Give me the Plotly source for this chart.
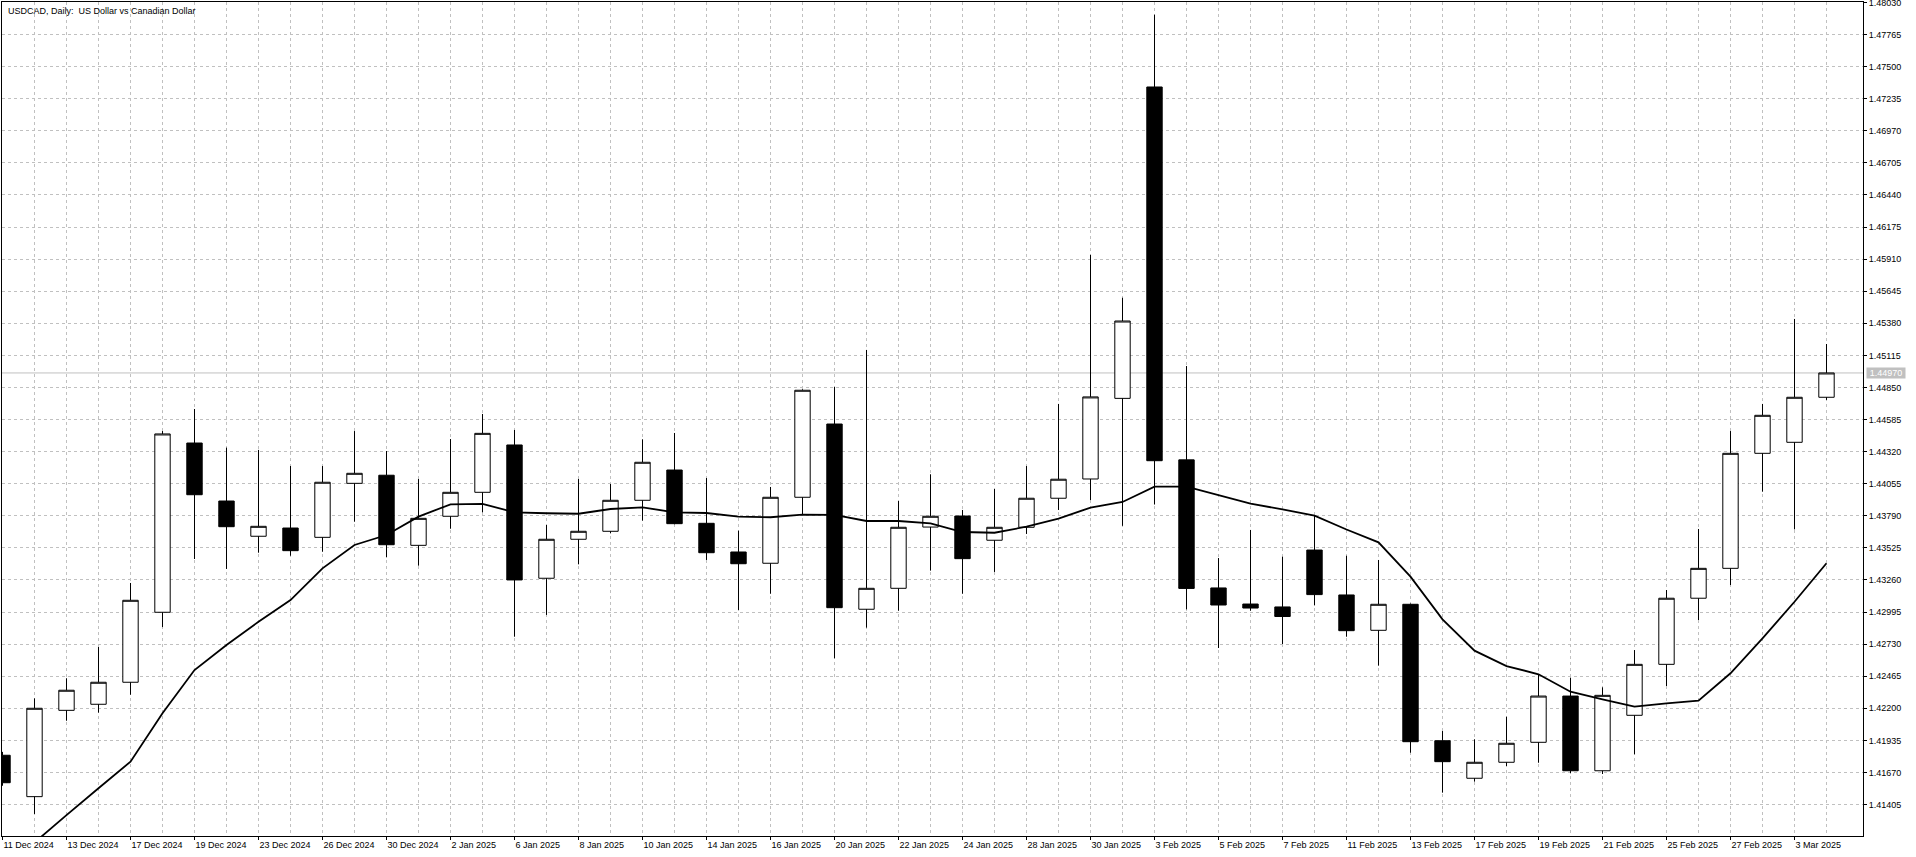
import plotly.graph_objects as go

# ---- data ----
dates = ["11 Dec 2024", "12 Dec 2024", "13 Dec 2024", "16 Dec 2024", "17 Dec 2024", "18 Dec 2024",
         "19 Dec 2024", "20 Dec 2024", "23 Dec 2024", "24 Dec 2024", "26 Dec 2024", "27 Dec 2024",
         "30 Dec 2024", "31 Dec 2024", "2 Jan 2025", "3 Jan 2025", "6 Jan 2025", "7 Jan 2025",
         "8 Jan 2025", "9 Jan 2025", "10 Jan 2025", "13 Jan 2025", "14 Jan 2025", "15 Jan 2025",
         "16 Jan 2025", "17 Jan 2025", "20 Jan 2025", "21 Jan 2025", "22 Jan 2025", "23 Jan 2025",
         "24 Jan 2025", "27 Jan 2025", "28 Jan 2025", "29 Jan 2025", "30 Jan 2025", "31 Jan 2025",
         "3 Feb 2025", "4 Feb 2025", "5 Feb 2025", "6 Feb 2025", "7 Feb 2025", "10 Feb 2025",
         "11 Feb 2025", "12 Feb 2025", "13 Feb 2025", "14 Feb 2025", "17 Feb 2025", "18 Feb 2025",
         "19 Feb 2025", "20 Feb 2025", "21 Feb 2025", "24 Feb 2025", "25 Feb 2025", "26 Feb 2025",
         "27 Feb 2025", "28 Feb 2025", "3 Mar 2025", "4 Mar 2025"]

opens = [1.41812, 1.41470, 1.42183, 1.42233, 1.42415, 1.42993, 1.44391, 1.43912, 1.43621, 1.43689,
         1.43612, 1.44058, 1.44125, 1.43546, 1.43786, 1.43984, 1.44375, 1.43274, 1.43596, 1.43662,
         1.43918, 1.44168, 1.43728, 1.43491, 1.43398, 1.43943, 1.44548, 1.43018, 1.43191, 1.43697,
         1.43788, 1.43588, 1.43695, 1.43935, 1.44094, 1.44760, 1.47332, 1.44252, 1.43194, 1.43061,
         1.43037, 1.43507, 1.43136, 1.42844, 1.43059, 1.41932, 1.41622, 1.41754, 1.41919, 1.42301,
         1.41684, 1.42142, 1.42563, 1.43109, 1.43356, 1.44306, 1.44397, 1.44769]

highs = [1.41840, 1.42282, 1.42448, 1.42706, 1.43235, 1.44490, 1.44672, 1.44353, 1.44334, 1.44201,
         1.44201, 1.44490, 1.44325, 1.44094, 1.44424, 1.44631, 1.44499, 1.43714, 1.44094, 1.44053,
         1.44422, 1.44474, 1.44102, 1.43667, 1.44028, 1.44835, 1.44854, 1.45160, 1.43912, 1.44133,
         1.43838, 1.44011, 1.44201, 1.44714, 1.45945, 1.45591, 1.47929, 1.45027, 1.43441, 1.43673,
         1.43452, 1.43792, 1.43460, 1.43425, 1.43065, 1.42012, 1.41944, 1.42130, 1.42475, 1.42453,
         1.42373, 1.42681, 1.43177, 1.43681, 1.44490, 1.44714, 1.45416, 1.45209]

lows = [1.41560, 1.41327, 1.42097, 1.42164, 1.42312, 1.42871, 1.43433, 1.43351, 1.43485, 1.43460,
        1.43493, 1.43741, 1.43447, 1.43378, 1.43683, 1.43819, 1.42791, 1.42971, 1.43389, 1.43645,
        1.43750, 1.43720, 1.43425, 1.43012, 1.43146, 1.43797, 1.42613, 1.42866, 1.43006, 1.43337,
        1.43146, 1.43326, 1.43640, 1.43838, 1.43920, 1.43707, 1.43883, 1.43017, 1.42698, 1.43006,
        1.42731, 1.43050, 1.42791, 1.42552, 1.41833, 1.41503, 1.41594, 1.41723, 1.41750, 1.41663,
        1.41657, 1.41820, 1.42384, 1.42929, 1.43218, 1.43989, 1.43678, 1.44747]

closes = [1.41585, 1.42200, 1.42349, 1.42415, 1.43092, 1.44466, 1.43964, 1.43700, 1.43703, 1.43502,
          1.44067, 1.44141, 1.43551, 1.43769, 1.43984, 1.44471, 1.43260, 1.43596, 1.43662, 1.43918,
          1.44232, 1.43725, 1.43485, 1.43394, 1.43943, 1.44827, 1.43031, 1.43191, 1.43695, 1.43786,
          1.43436, 1.43695, 1.43935, 1.44092, 1.44772, 1.45399, 1.44245, 1.43190, 1.43053, 1.43028,
          1.42958, 1.43139, 1.42841, 1.43059, 1.41924, 1.41759, 1.41754, 1.41911, 1.42301, 1.41684,
          1.42307, 1.42563, 1.43109, 1.43356, 1.44306, 1.44620, 1.44769, 1.44970]

moving_average = [1.40864, 1.41095, 1.41318, 1.41539, 1.41759, 1.42159, 1.42516, 1.42723, 1.42915, 1.43094,
                  1.43356, 1.43549, 1.43631, 1.43783, 1.43885, 1.43888, 1.43819, 1.43811, 1.43807, 1.43846,
                  1.43860, 1.43819, 1.43813, 1.43783, 1.43778, 1.43799, 1.43797, 1.43747, 1.43747, 1.43728,
                  1.43656, 1.43650, 1.43700, 1.43766, 1.43858, 1.43904, 1.44031, 1.44031, 1.43958, 1.43891,
                  1.43843, 1.43792, 1.43677, 1.43571, 1.43287, 1.42935, 1.42676, 1.42549, 1.42481, 1.42337,
                  1.42274, 1.42213, 1.42241, 1.42263, 1.42489, 1.42778, 1.43080, 1.43398]

price_ticks = [1.41405, 1.41670, 1.41935, 1.42200, 1.42465, 1.42730, 1.42995, 1.43260, 1.43525,
               1.43790, 1.44055, 1.44320, 1.44585, 1.44850, 1.45115, 1.45380, 1.45645, 1.45910,
               1.46175, 1.46440, 1.46705, 1.46970, 1.47235, 1.47500, 1.47765, 1.48030]

title_text = "USDCAD, Daily:\u00a0 US Dollar vs Canadian Dollar"

# ---- figure ----
idx = list(range(len(dates)))
label_idx = idx[::2]
label_text = dates[::2]
grid_col = "#c0c0c0"
font_family = "Liberation Sans, Arial, sans-serif"
last_price = closes[-1]

fig = go.Figure()
fig.add_trace(go.Candlestick(
    x=idx, open=opens, high=highs, low=lows, close=closes,
    increasing=dict(line=dict(color="black", width=1), fillcolor="white"),
    decreasing=dict(line=dict(color="black", width=1), fillcolor="black"),
    whiskerwidth=0, hoverinfo="skip", showlegend=False,
))
fig.add_trace(go.Scatter(
    x=idx, y=moving_average, mode="lines",
    line=dict(color="black", width=1.8), hoverinfo="skip", showlegend=False,
))

fig.add_shape(type="line", xref="paper", x0=0, x1=1, yref="y", y0=last_price, y1=last_price,
              line=dict(color=grid_col, width=1), layer="between")

fig.add_annotation(xref="paper", x=1, xanchor="left", xshift=3, yref="y", y=last_price,
                   yanchor="middle", text=f"{last_price:.5f}", showarrow=False,
                   bgcolor=grid_col, font=dict(color="white", size=9, family=font_family),
                   width=38, height=10, borderpad=0)

fig.add_annotation(xref="paper", yref="paper", x=0, y=1, xanchor="left", yanchor="top",
                   xshift=4, yshift=-2, text=title_text, showarrow=False,
                   font=dict(size=9, color="black", family=font_family))

fig.update_layout(
    width=1916, height=857,
    margin=dict(l=2, r=53, t=2, b=21, pad=0, autoexpand=False),
    paper_bgcolor="white", plot_bgcolor="white",
    boxgap=0.3125, showlegend=False,
    font=dict(family=font_family, size=9, color="black"),
    xaxis=dict(
        type="linear", range=[-0.015625, 58.140625], automargin=False,
        tickmode="array", tickvals=label_idx, ticktext=label_text,
        ticks="outside", ticklen=3, tickcolor="black", tickwidth=1,
        ticklabelposition="outside right", ticklabeloverflow="allow",
        showgrid=True, gridcolor=grid_col, griddash="3px,3px", gridwidth=1,
        minor=dict(tickmode="array", tickvals=idx[1::2], showgrid=True, gridcolor=grid_col,
                   griddash="3px,3px", gridwidth=1, ticks=""),
        showline=True, linecolor="black", linewidth=1, mirror=True,
        zeroline=False, rangeslider=dict(visible=False), fixedrange=True,
        tickfont=dict(size=9, family=font_family, color="black"),
    ),
    yaxis=dict(
        side="right", range=[1.41145, 1.48034], automargin=False,
        tickmode="array", tickvals=price_ticks, tickformat=".5f",
        ticks="outside", ticklen=3, tickcolor="black", tickwidth=1,
        ticklabeloverflow="allow",
        showgrid=True, gridcolor=grid_col, griddash="3px,3px", gridwidth=1,
        showline=True, linecolor="black", linewidth=1, mirror=True,
        zeroline=False, fixedrange=True,
        tickfont=dict(size=9, family=font_family, color="black"),
    ),
)

fig.write_html("out.html", config={"displayModeBar": False},
               post_script="document.body.style.margin='0';document.body.style.overflow='hidden';")
